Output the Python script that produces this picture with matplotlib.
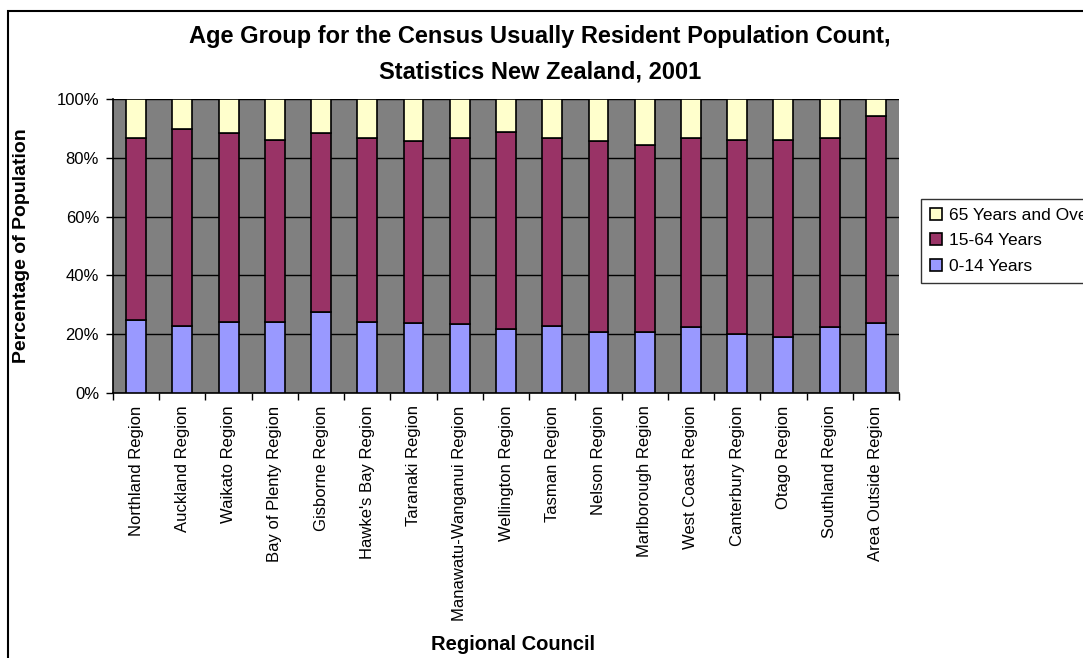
import numpy as np
import matplotlib.pyplot as plt
from matplotlib.patches import Rectangle
from matplotlib.ticker import FixedLocator, PercentFormatter

plt.rcParams['font.family'] = ['Liberation Sans', 'DejaVu Sans']

# Data (percent of population)
regions = ['Northland Region', 'Auckland Region', 'Waikato Region', 'Bay of Plenty Region',
           'Gisborne Region', "Hawke's Bay Region", 'Taranaki Region',
           'Manawatu-Wanganui Region', 'Wellington Region', 'Tasman Region', 'Nelson Region',
           'Marlborough Region', 'West Coast Region', 'Canterbury Region', 'Otago Region',
           'Southland Region', 'Area Outside Region']
age_0_14 = [24.8, 22.7, 24.3, 24.3, 27.4, 24.3, 23.8, 23.3, 21.6, 22.7, 20.6, 20.6, 22.3, 20.0, 19.0, 22.3, 23.8]
age_15_64 = [61.9, 67.2, 64.0, 61.8, 60.9, 62.4, 61.9, 63.4, 67.2, 64.0, 65.1, 63.9, 64.4, 66.1, 67.1, 64.4, 70.3]
age_65_over = [13.3, 10.1, 11.7, 13.9, 11.7, 13.3, 14.3, 13.3, 11.2, 13.3, 14.3, 15.5, 13.3, 13.9, 13.9, 13.3, 5.9]

fig = plt.figure(figsize=(10.83, 6.58), dpi=100)
ax = fig.add_axes([113 / 1083, 1 - 393 / 658, (899 - 113) / 1083, (393 - 99) / 658])

x = np.arange(len(regions))
w = 0.43
b1 = ax.bar(x, age_0_14, w, color='#9999FF', edgecolor='black', linewidth=1.2, label='0-14 Years', zorder=3)
b2 = ax.bar(x, age_15_64, w, bottom=age_0_14, color='#993366', edgecolor='black', linewidth=1.2,
            label='15-64 Years', zorder=3)
b3 = ax.bar(x, age_65_over, w, bottom=np.add(age_0_14, age_15_64), color='#FFFFCC', edgecolor='black',
            linewidth=1.2, label='65 Years and Over', zorder=3)

ax.set_facecolor('#808080')
ax.set_xlim(-0.5, len(regions) - 0.5)
ax.set_ylim(0, 100)
ax.set_yticks(np.arange(0, 101, 20))
ax.yaxis.set_major_formatter(PercentFormatter(decimals=0))
ax.grid(axis='y', color='black', linewidth=1, zorder=1)
ax.set_axisbelow(True)

ax.set_xticks(x)
ax.set_xticklabels(regions, rotation=90, fontsize=12)
ax.xaxis.set_minor_locator(FixedLocator(np.arange(-0.5, len(regions), 1)))
ax.tick_params(axis='x', which='major', length=0, pad=9)
ax.tick_params(axis='x', which='minor', length=5, width=1, direction='out')
ax.tick_params(axis='y', length=5, width=1, direction='out', labelsize=12, pad=5)

for side in ['top', 'right']:
    ax.spines[side].set_visible(False)
for side in ['left', 'bottom']:
    ax.spines[side].set_linewidth(1.2)

fig.text(22 / 1083, 1 - 246 / 658, 'Percentage of Population', fontsize=14, fontweight='bold',
         rotation=90, ha='center', va='center')
fig.text(513 / 1083, 1 - 645 / 658, 'Regional Council', fontsize=14.5, fontweight='bold', ha='center', va='center')
fig.text(540 / 1083, 1 - 37 / 658, 'Age Group for the Census Usually Resident Population Count,',
         fontsize=17, fontweight='bold', ha='center', va='center')
fig.text(540 / 1083, 1 - 72 / 658, 'Statistics New Zealand, 2001',
         fontsize=17, fontweight='bold', ha='center', va='center')

leg = fig.legend(handles=[b3, b2, b1], loc='upper left', bbox_to_anchor=(921 / 1083, 1 - 199 / 658),
                 fontsize=12.5, frameon=True, fancybox=False, edgecolor='black', handlelength=0.7,
                 handleheight=0.7, handletextpad=0.4, labelspacing=0.6, borderpad=0.5, borderaxespad=0)
leg.get_frame().set_linewidth(1)

fig.patches.append(Rectangle((8 / 1083, -0.1), 1.2, 1 - 11 / 658 + 0.1, transform=fig.transFigure,
                             fill=False, edgecolor='black', linewidth=1.5))

fig.savefig('out.png', dpi=100)
